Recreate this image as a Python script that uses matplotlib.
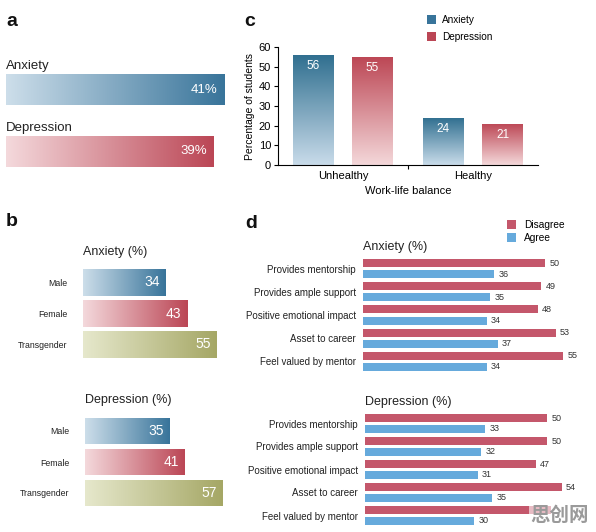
import numpy as np
import matplotlib
matplotlib.use("Agg")
import matplotlib.pyplot as plt
from matplotlib.colors import LinearSegmentedColormap

plt.rcParams['font.family'] = ['Liberation Sans', 'DejaVu Sans']

# ---- data ----
a_labels = ["Anxiety", "Depression"]
a_values = [41, 39]

b_groups = ["Male", "Female", "Transgender"]
b_anxiety = [34, 43, 55]
b_depression = [35, 41, 57]

c_categories = ["Unhealthy", "Healthy"]
c_anxiety = [56, 24]
c_depression = [55, 21]

d_items = ["Provides mentorship", "Provides ample support", "Positive emotional impact",
           "Asset to career", "Feel valued by mentor"]
d_anx_disagree = [50, 49, 48, 53, 55]
d_anx_agree = [36, 35, 34, 37, 34]
d_dep_disagree = [50, 50, 47, 54, 51]   # last one is hidden under the watermark
d_dep_agree = [33, 32, 31, 35, 30]

W, H = 596, 532
fig = plt.figure(figsize=(W / 100, H / 100), dpi=100)


def px_axes(x0, y0, x1, y1):
    # pixel box (top-left origin) -> figure axes
    return fig.add_axes([x0 / W, 1 - y1 / H, (x1 - x0) / W, (y1 - y0) / H])


def grad_fill(ax, patch, c_light, c_dark, vertical=False):
    cmap = LinearSegmentedColormap.from_list("g", [c_light, c_dark])
    bb = patch.get_bbox()
    if vertical:
        arr = np.linspace(0, 1, 256).reshape(-1, 1)
    else:
        arr = np.linspace(0, 1, 256).reshape(1, -1)
    im = ax.imshow(arr, cmap=cmap, aspect='auto', origin='lower',
                   extent=(bb.x0, bb.x1, bb.y0, bb.y1), zorder=2)
    im.set_clip_path(patch)


def clean(ax):
    for s in ax.spines.values():
        s.set_visible(False)
    ax.set_xticks([])


blue_l, blue_d = "#cddeea", "#38749a"
red_l, red_d = "#f4d9dc", "#bb4655"
olive_l, olive_d = "#e6e8cc", "#a5a765"

# ---- panel a ----
axa = px_axes(6, 58.5, 246, 182.5)
bars = axa.barh(range(2), a_values, height=0.5, color=[blue_d, red_d], zorder=1)
for p, (cl, cd) in zip(bars, [(blue_l, blue_d), (red_l, red_d)]):
    grad_fill(axa, p, cl, cd)
for i, (lab, v) in enumerate(zip(a_labels, a_values)):
    axa.text(0, i - 0.28, lab, fontsize=9.5, va='bottom', ha='left', color='#222222')
    axa.annotate(f"{v}%", (v, i), xytext=(-5, 0), textcoords='offset points',
                 ha='right', va='center', color='white', fontsize=9.5, zorder=3)
axa.set_xlim(0, 45)
axa.set_ylim(1.5, -0.5)
clean(axa)
axa.set_yticks([])

# ---- panel b ----
b_colors = [(blue_l, blue_d), (red_l, red_d), (olive_l, olive_d)]
for (y0, y1, title, vals) in [(267, 360, "Anxiety (%)", b_anxiety),
                              (415.5, 508.5, "Depression (%)", b_depression)]:
    xoff = 83 if vals is b_anxiety else 85
    axb = px_axes(xoff, y0, xoff + 2.42 * 60, y1)
    bars = axb.barh(range(3), vals, height=0.87, color=[c[1] for c in b_colors], zorder=1)
    for p, (cl, cd) in zip(bars, b_colors):
        grad_fill(axb, p, cl, cd)
    for i, v in enumerate(vals):
        axb.annotate(str(v), (v, i), xytext=(-4, 0), textcoords='offset points',
                     ha='right', va='center', color='white', fontsize=10, zorder=3)
    axb.set_xlim(0, 60)
    axb.set_ylim(2.5, -0.5)
    clean(axb)
    axb.set_yticks(range(3))
    axb.set_yticklabels(b_groups, fontsize=6.3, color='#222222')
    axb.tick_params(axis='y', length=0, pad=11)
    axb.set_title(title, loc='left', fontsize=9, pad=9, color='#222222')

# ---- panel c ----
axc = px_axes(278, 47, 538, 165)
x = np.arange(len(c_categories))
off, bw = 0.227, 0.315
ba = axc.bar(x - off, c_anxiety, bw, color=blue_d, label="Anxiety", zorder=1)
bd = axc.bar(x + off, c_depression, bw, color=red_d, label="Depression", zorder=1)
for p in ba:
    grad_fill(axc, p, "#c9dcea", "#2f6e8f", vertical=True)
for p in bd:
    grad_fill(axc, p, "#f4d8da", "#bc4654", vertical=True)
for xs, vals in [(x - off, c_anxiety), (x + off, c_depression)]:
    for xi, v in zip(xs, vals):
        axc.annotate(str(v), (xi, v), xytext=(0, -8), textcoords='offset points',
                     ha='center', va='center', color='white', fontsize=8.5, zorder=3)
axc.set_xlim(-0.5, 1.5)
axc.set_ylim(0, 60)
axc.spines['top'].set_visible(False)
axc.spines['right'].set_visible(False)
axc.set_yticks(range(0, 61, 10))
axc.tick_params(axis='y', labelsize=8, length=3, pad=2)
axc.set_xticks([0.5])
axc.set_xticklabels([""])
axc.set_xticks(x, minor=True)
axc.set_xticklabels(c_categories, minor=True, fontsize=8)
axc.tick_params(axis='x', which='minor', length=0, pad=4)
axc.tick_params(axis='x', which='major', length=3)
axc.set_ylabel("Percentage of students", fontsize=7.5, labelpad=3)
axc.set_xlabel("Work-life balance", fontsize=8, labelpad=4)
axc.legend(loc='upper left', bbox_to_anchor=(418 / W, 1 - 6 / H),
           bbox_transform=fig.transFigure, frameon=False, fontsize=7.2,
           handlelength=0.9, handleheight=0.9, handletextpad=0.6, labelspacing=0.7)

# ---- panel d ----
dis_c, agr_c = "#c4576b", "#66aadc"
for (x0, y0, y1, title, dis, agr) in [
        (363, 256.9, 373.1, "Anxiety (%)", d_anx_disagree, d_anx_agree),
        (365, 412, 527, "Depression (%)", d_dep_disagree, d_dep_agree)]:
    axd = px_axes(x0, y0, x0 + 3.64 * 60, y1)
    yy = np.arange(len(d_items))
    axd.barh(yy - 0.237, dis, 0.344, color=dis_c, label="Disagree")
    axd.barh(yy + 0.237, agr, 0.344, color=agr_c, label="Agree")
    for k, (yi, v) in enumerate(zip(yy - 0.237, dis)):
        if title.startswith("Depression") and k == len(dis) - 1:
            continue  # covered by the watermark in the source
        axd.annotate(str(v), (v, yi), xytext=(3, 0), textcoords='offset points',
                     ha='left', va='center', fontsize=6.5, color='#333333')
    for yi, v in zip(yy + 0.237, agr):
        axd.annotate(str(v), (v, yi), xytext=(3, 0), textcoords='offset points',
                     ha='left', va='center', fontsize=6.5, color='#333333')
    axd.set_xlim(0, 60)
    axd.set_ylim(4.5, -0.5)
    clean(axd)
    axd.set_yticks(yy)
    axd.set_yticklabels(d_items, fontsize=7, color='#222222')
    axd.tick_params(axis='y', length=0, pad=5)
    axd.set_title(title, loc='left', fontsize=9, pad=5, color='#222222')
    if title.startswith("Anxiety"):
        axd.legend(loc='upper left', bbox_to_anchor=(498 / W, 1 - 211 / H),
                   bbox_transform=fig.transFigure, frameon=False, fontsize=7.3,
                   handlelength=0.9, handleheight=0.9, handletextpad=0.8,
                   labelspacing=0.3)

# ---- panel letters ----
for lab, px, py in [("a", 6, 26), ("b", 6, 226), ("c", 244, 26), ("d", 245, 228)]:
    fig.text(px / W, 1 - py / H, lab, fontsize=14, fontweight='bold', ha='left',
             va='baseline', color='#111111')

# watermark seen in the source image
fig.text(560 / W, 1 - 515 / H, "思创网", fontsize=14, fontweight='bold', color='#9a9a9a',
         ha='center', va='center', zorder=10,
         bbox=dict(facecolor='white', edgecolor='none', alpha=0.6, pad=1),
         family=['Noto Sans CJK SC', 'DejaVu Sans'])

fig.savefig("out.png", dpi=100)
